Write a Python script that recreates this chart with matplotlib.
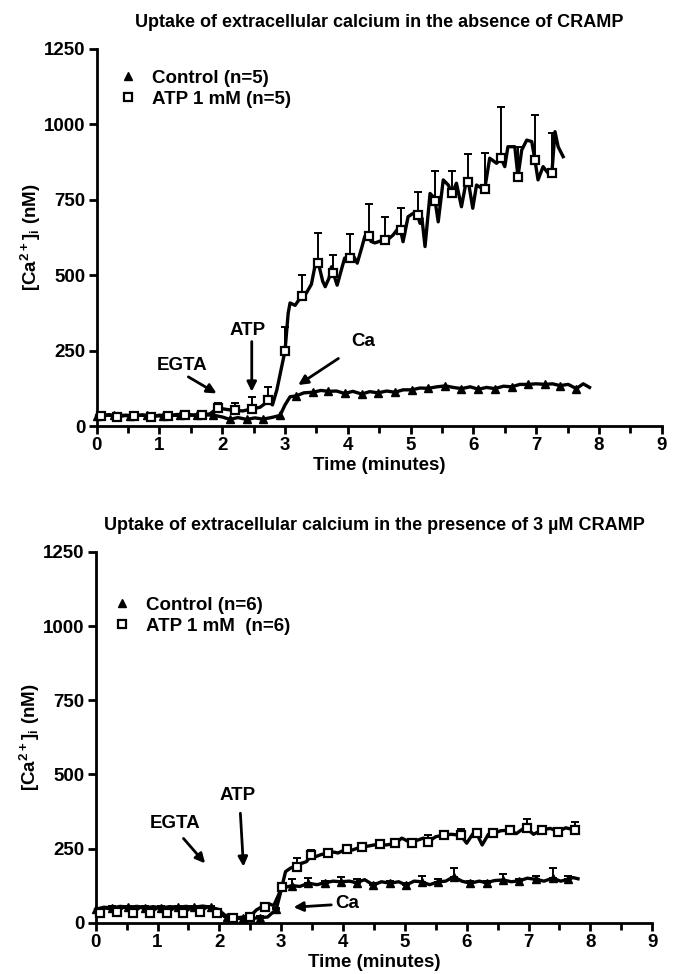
import numpy as np
import matplotlib
matplotlib.use("Agg")
import matplotlib.pyplot as plt
from matplotlib.lines import Line2D

plt.rcParams['font.family'] = ['Liberation Sans', 'DejaVu Sans']
plt.rcParams['font.weight'] = 'bold'
plt.rcParams['mathtext.default'] = 'regular'

# ---- panel 1: absence of CRAMP ----
atp1_line_t = [0.0, 0.07, 0.2, 0.33, 0.47, 0.6, 0.73, 0.87, 1.0, 1.13, 1.27, 1.4, 1.53, 1.67, 1.8,
               1.93, 2.07, 2.2, 2.33, 2.47, 2.6, 2.73, 2.8, 2.87, 2.95, 3.0, 3.05, 3.08, 3.16, 3.24,
               3.34, 3.42, 3.48, 3.53, 3.6, 3.64, 3.7, 3.74, 3.77, 3.83, 3.9, 3.95, 4.04, 4.1, 4.15,
               4.22, 4.27, 4.31, 4.37, 4.43, 4.5, 4.56, 4.62, 4.72, 4.8, 4.84, 4.88, 4.96, 5.04, 5.11,
               5.15, 5.18, 5.23, 5.31, 5.36, 5.39, 5.44, 5.52, 5.6, 5.66, 5.73, 5.81, 5.89, 5.92, 5.99,
               6.05, 6.12, 6.18, 6.26, 6.37, 6.44, 6.5, 6.55, 6.66, 6.71, 6.77, 6.85, 6.93, 6.98, 7.03,
               7.11, 7.19, 7.25, 7.30, 7.35, 7.43]
atp1_line_v = [35, 33, 38, 30, 36, 33, 37, 31, 36, 33, 38, 38, 36, 38, 40,
               60, 55, 52, 50, 57, 62, 82, 70, 120, 200, 250, 374, 408, 400, 424,
               441, 470, 534, 541, 480, 462, 490, 528, 506, 467, 520, 557, 556, 560, 540,
               590, 628, 640, 612, 607, 612, 617, 615, 633, 655, 650, 611, 694, 705, 700,
               672, 690, 595, 771, 760, 747, 677, 816, 799, 771, 805, 727, 816, 810, 722,
               799, 790, 785, 888, 871, 888, 860, 926, 926, 827, 915, 948, 943, 882, 816,
               860, 838, 838, 976, 926, 893]

atp1_t = [0.07, 0.33, 0.6, 0.87, 1.13, 1.4, 1.67, 1.93, 2.2, 2.47, 2.73, 3.0, 3.27, 3.53,
          3.77, 4.04, 4.33, 4.59, 4.84, 5.11, 5.39, 5.66, 5.92, 6.18, 6.44, 6.71, 6.98, 7.25]
atp1_v = [33, 30, 33, 30, 33, 38, 38, 60, 53, 58, 85, 250, 430, 541,
          506, 556, 630, 617, 650, 700, 747, 771, 810, 785, 888, 827, 882, 838]
atp1_err = [4, 4, 4, 4, 4, 4, 4, 16, 25, 38, 45, 79, 70, 98,
            61, 80, 106, 77, 72, 77, 98, 74, 91, 119, 171, 97, 149, 132]

ctrl1_line_t = [0.0, 0.13, 0.27, 0.4, 0.53, 0.67, 0.8, 0.93, 1.06, 1.2, 1.33, 1.46, 1.59, 1.73,
                1.86, 2.0, 2.12, 2.25, 2.39, 2.52, 2.65, 2.78, 2.92, 3.0, 3.08, 3.18, 3.3, 3.45,
                3.57, 3.69, 3.82, 3.95, 4.08, 4.22, 4.35, 4.48, 4.62, 4.75, 4.88, 5.02, 5.15, 5.28,
                5.42, 5.55, 5.68, 5.81, 5.95, 6.08, 6.21, 6.34, 6.48, 6.61, 6.74, 6.87, 7.0, 7.14,
                7.26, 7.38, 7.51, 7.64, 7.75, 7.85]
ctrl1_line_v = [32, 36, 35, 36, 33, 36, 35, 34, 33, 36, 35, 37, 36, 37,
                36, 30, 22, 28, 22, 27, 23, 28, 35, 70, 97, 100, 110, 112,
                118, 115, 116, 108, 115, 106, 114, 110, 116, 112, 120, 120, 126, 125,
                130, 133, 128, 124, 130, 122, 128, 124, 132, 130, 138, 138, 140, 138,
                140, 134, 138, 124, 140, 128]

ctrl1_t = [0.0, 0.27, 0.53, 0.8, 1.06, 1.33, 1.59, 1.86, 2.12, 2.39, 2.65, 2.92, 3.18, 3.45,
           3.69, 3.95, 4.22, 4.48, 4.75, 5.02, 5.28, 5.55, 5.81, 6.08, 6.34, 6.61, 6.87, 7.14,
           7.38, 7.64]
ctrl1_v = [32, 35, 33, 35, 33, 35, 36, 36, 22, 22, 23, 35, 100, 112,
           115, 108, 106, 110, 112, 120, 125, 133, 124, 122, 124, 130, 138, 138,
           134, 124]

# ---- panel 2: presence of 3 uM CRAMP ----
atp2_line_t = [0.0, 0.07, 0.15, 0.27, 0.34, 0.45, 0.55, 0.61, 0.72, 0.8, 0.88, 1.0, 1.1, 1.15,
               1.27, 1.35, 1.42, 1.55, 1.62, 1.69, 1.8, 1.9, 1.96, 2.05, 2.15, 2.22, 2.35, 2.49,
               2.6, 2.74, 2.82, 2.88, 2.95, 3.01, 3.07, 3.15, 3.25, 3.33, 3.41, 3.49, 3.55, 3.65,
               3.76, 3.85, 3.92, 4.06, 4.15, 4.30, 4.40, 4.5, 4.59, 4.7, 4.84, 4.95, 5.0, 5.11,
               5.2, 5.3, 5.38, 5.5, 5.63, 5.75, 5.9, 6.0, 6.1, 6.16, 6.25, 6.35, 6.43, 6.55,
               6.7, 6.8, 6.9, 6.97, 7.08, 7.21, 7.35, 7.48, 7.6, 7.75]
atp2_line_v = [40, 35, 50, 45, 38, 52, 48, 36, 52, 47, 36, 50, 46, 33,
               50, 48, 33, 52, 48, 38, 53, 50, 34, 25, 18, 15, 18, 20,
               43, 60, 62, 58, 90, 120, 172, 184, 192, 200, 206, 228, 222, 230,
               234, 238, 235, 249, 245, 256, 258, 262, 264, 262, 267, 285, 280, 267,
               278, 285, 273, 290, 295, 298, 295, 268, 300, 301, 262, 298, 301, 310,
               312, 300, 315, 318, 298, 312, 318, 307, 320, 312]

atp2_t = [0.07, 0.34, 0.61, 0.88, 1.15, 1.42, 1.69, 1.96, 2.22, 2.49, 2.74, 3.01, 3.25, 3.49,
          3.76, 4.06, 4.30, 4.59, 4.84, 5.11, 5.38, 5.63, 5.90, 6.16, 6.43, 6.70, 6.97, 7.21,
          7.48, 7.75]
atp2_v = [34, 37, 34, 34, 32, 32, 37, 32, 15, 20, 54, 119, 189, 228,
          234, 249, 256, 264, 267, 267, 273, 295, 295, 301, 301, 312, 318, 312,
          307, 312]
atp2_err = [5, 5, 5, 5, 5, 5, 5, 5, 5, 5, 8, 8, 28, 17,
            8, 8, 8, 8, 8, 8, 22, 8, 21, 8, 8, 8, 30, 8,
            8, 28]

ctrl2_line_t = [0.0, 0.13, 0.27, 0.4, 0.53, 0.67, 0.8, 0.93, 1.06, 1.2, 1.33, 1.46, 1.59, 1.73,
                1.86, 1.98, 2.12, 2.25, 2.39, 2.52, 2.65, 2.78, 2.92, 3.0, 3.08, 3.18, 3.3, 3.44,
                3.58, 3.71, 3.84, 3.96, 4.1, 4.22, 4.35, 4.49, 4.62, 4.76, 4.9, 5.02, 5.15, 5.27,
                5.4, 5.54, 5.66, 5.79, 5.92, 6.06, 6.2, 6.32, 6.45, 6.59, 6.72, 6.85, 6.98, 7.12,
                7.25, 7.39, 7.52, 7.64, 7.72, 7.8]
ctrl2_line_v = [45, 52, 50, 55, 52, 55, 50, 54, 50, 54, 52, 55, 52, 56,
                52, 45, 20, 14, 15, 14, 17, 19, 45, 110, 120, 125, 122, 133,
                128, 135, 140, 138, 140, 135, 145, 127, 138, 133, 138, 127, 140, 138,
                128, 138, 140, 155, 140, 133, 140, 135, 142, 144, 138, 141, 150, 146,
                140, 150, 140, 146, 152, 148]

ctrl2_t = [0.0, 0.27, 0.53, 0.8, 1.06, 1.33, 1.59, 1.86, 2.12, 2.39, 2.65, 2.92, 3.18, 3.44,
           3.71, 3.96, 4.22, 4.49, 4.76, 5.02, 5.27, 5.54, 5.79, 6.06, 6.32, 6.59, 6.85, 7.12,
           7.39, 7.64]
ctrl2_v = [45, 50, 52, 50, 50, 52, 52, 52, 20, 15, 17, 45, 125, 133,
           135, 138, 135, 127, 133, 127, 138, 138, 155, 133, 135, 144, 141, 146,
           150, 146]
ctrl2_err = [5, 5, 5, 5, 5, 5, 5, 5, 4, 4, 4, 6, 22, 17,
             6, 15, 12, 6, 6, 6, 19, 10, 28, 6, 6, 20, 6, 12,
             33, 12]

titles = ["Uptake of extracellular calcium in the absence of CRAMP",
          "Uptake of extracellular calcium in the presence of 3 \u00b5M CRAMP"]
legend_labels = [["Control (n=5)", "ATP 1 mM (n=5)"],
                 ["Control (n=6)", "ATP 1 mM  (n=6)"]]
yticks = [0, 250, 500, 750, 1000, 1250]
xticks = list(range(0, 10))

FS = 13.5


def style_axes(ax):
    for s in ['top', 'right']:
        ax.spines[s].set_visible(False)
    for s in ['left', 'bottom']:
        ax.spines[s].set_linewidth(2)
    ax.set_xlim(0, 9)
    ax.set_ylim(0, 1250)
    ax.set_xticks(xticks)
    ax.set_xticks(np.arange(0.5, 9, 1.0), minor=True)
    ax.set_yticks(yticks)
    ax.tick_params(axis='both', which='major', direction='out', length=6, width=2,
                   labelsize=FS, pad=2)
    ax.tick_params(axis='x', which='minor', direction='out', length=5, width=2)
    for lab in ax.get_xticklabels() + ax.get_yticklabels():
        lab.set_fontweight('bold')
    ax.set_xlabel("Time (minutes)", fontsize=FS, fontweight='bold', labelpad=2)
    ax.set_ylabel("[Ca$^{2+}$]$_i$ (nM)", fontsize=FS, fontweight='bold', labelpad=1)


def draw_panel(ax, ctrl_line, atp_line, ctrl, atp, ctrl_err, atp_err, title, labels, legend_xy):
    ax.plot(ctrl_line[0], ctrl_line[1], color='black', lw=2.4, zorder=2, clip_on=False)
    ax.plot(atp_line[0], atp_line[1], color='black', lw=2.4, zorder=2, clip_on=False)
    if ctrl_err is not None:
        ax.errorbar(ctrl[0], ctrl[1], yerr=[np.zeros(len(ctrl_err)), ctrl_err], fmt='none',
                    ecolor='black', elinewidth=1.4, capsize=3, capthick=1.4, zorder=3)
    ax.errorbar(atp[0], atp[1], yerr=[np.zeros(len(atp_err)), atp_err], fmt='none',
                ecolor='black', elinewidth=1.4, capsize=3, capthick=1.4, zorder=3)
    ax.plot(ctrl[0], ctrl[1], ls='none', marker='^', ms=5.8, mfc='black', mec='black',
            zorder=4, clip_on=False)
    ax.plot(atp[0], atp[1], ls='none', marker='s', ms=5.2, mfc='white', mec='black', mew=1.6,
            zorder=5, clip_on=False)
    handles = [Line2D([], [], ls='none', marker='^', ms=5.8, mfc='black', mec='black'),
               Line2D([], [], ls='none', marker='s', ms=5.2, mfc='white', mec='black', mew=1.6)]
    ax.legend(handles, labels, loc='upper left', bbox_to_anchor=legend_xy, frameon=False,
              handlelength=0.8, handletextpad=0.9, labelspacing=0.2,
              prop={'size': FS, 'weight': 'bold'}, borderaxespad=0)
    ax.set_title(title, fontsize=13, fontweight='bold', pad=16)
    style_axes(ax)


fig = plt.figure(figsize=(6.78, 9.74), dpi=100)
ax1 = fig.add_axes([0.1426, 0.5626, 0.976 - 0.1426, 0.9497 - 0.5626])
ax2 = fig.add_axes([0.1411, 0.0527, 0.962 - 0.1411, 0.4333 - 0.0527])

draw_panel(ax1, (ctrl1_line_t, ctrl1_line_v), (atp1_line_t, atp1_line_v),
           (ctrl1_t, ctrl1_v), (atp1_t, atp1_v), None, atp1_err,
           titles[0], legend_labels[0], (0.029, 0.965))
draw_panel(ax2, (ctrl2_line_t, ctrl2_line_v), (atp2_line_t, atp2_line_v),
           (ctrl2_t, ctrl2_v), (atp2_t, atp2_v), ctrl2_err, atp2_err,
           titles[1], legend_labels[1], (0.02, 0.9))

arrow = dict(arrowstyle='-|>', color='black', lw=2, mutation_scale=14, shrinkA=0, shrinkB=0)
txt = dict(fontsize=FS, fontweight='bold', ha='center', va='center')

ax1.annotate("", xy=(1.91, 108), xytext=(1.46, 163), arrowprops=arrow)
ax1.text(1.36, 202, "EGTA", **txt)
ax1.annotate("", xy=(2.47, 114), xytext=(2.47, 280), arrowprops=arrow)
ax1.text(2.41, 318, "ATP", **txt)
ax1.annotate("", xy=(3.21, 136), xytext=(3.85, 224), arrowprops=arrow)
ax1.text(4.25, 280, "Ca", **txt)

ax2.annotate("", xy=(1.77, 200), xytext=(1.42, 284), arrowprops=arrow)
ax2.text(1.28, 333, "EGTA", **txt)
ax2.annotate("", xy=(2.39, 189), xytext=(2.34, 369), arrowprops=arrow)
ax2.text(2.30, 430, "ATP", **txt)
ax2.annotate("", xy=(3.2, 52), xytext=(3.81, 60), arrowprops=arrow)
ax2.text(4.06, 63, "Ca", **txt)

fig.savefig("out.png", dpi=100)
